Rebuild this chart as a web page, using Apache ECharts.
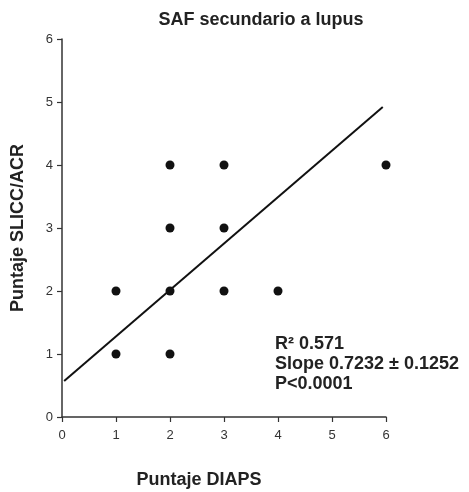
<!DOCTYPE html>
<html><head><meta charset="utf-8">
<script src="https://cdn.jsdelivr.net/npm/echarts@6/dist/echarts.min.js"></script>
<style>html,body{margin:0;padding:0;background:#fff}#c{width:469px;height:492px}</style>
</head><body><div id="c"></div>
<script>
var xTicks = [0,1,2,3,4,5,6];
var yTicks = [0,1,2,3,4,5,6];
var pointsX = [1,2,1,2,3,4,2,3,2,3,6];
var pointsY = [1,1,2,2,2,2,3,3,4,4,4];
var fitX = [0.04, 5.94];
var fitY = [0.57, 4.92];
var statsLines = ['R² 0.571', 'Slope 0.7232 ± 0.1252', 'P<0.0001'];

var font = '"Liberation Sans", Arial, sans-serif';
var chart = echarts.init(document.getElementById('c'), null, {renderer:'canvas'});
chart.setOption({
  animation:false,
  backgroundColor:'#fff',
  title:{text:'SAF secundario a lupus', left:256, top:6, textAlign:'center',
    textStyle:{fontFamily:font, fontSize:18, fontWeight:'bold', color:'#222'}},
  grid:{left:62, top:39, right:83, bottom:75, containLabel:false, outerBoundsMode:'none'},
  xAxis:{type:'value', min:0, max:6, interval:1,
    name:'Puntaje DIAPS', nameLocation:'middle', nameGap:54,
    nameTextStyle:{fontFamily:font, fontSize:18, fontWeight:'bold', color:'#222', padding:[0,0,0,-50]},
    axisLine:{show:true, onZero:false, lineStyle:{color:'#333', width:1.5}},
    axisTick:{show:true, length:5, lineStyle:{color:'#333', width:1.2}},
    axisLabel:{fontFamily:font, fontSize:13, color:'#333', margin:12,
      formatter:function(v){return xTicks.indexOf(v)>=0?String(v):'';}},
    splitLine:{show:false}},
  yAxis:{type:'value', min:0, max:6, interval:1,
    name:'Puntaje SLICC/ACR', nameLocation:'middle', nameGap:35, nameRotate:90,
    nameTextStyle:{fontFamily:font, fontSize:18, fontWeight:'bold', color:'#222'},
    axisLine:{show:true, onZero:false, lineStyle:{color:'#333', width:1.5}},
    axisTick:{show:true, length:5, lineStyle:{color:'#333', width:1.2}},
    axisLabel:{fontFamily:font, fontSize:13, color:'#333', margin:9,
      formatter:function(v){return yTicks.indexOf(v)>=0?String(v):'';}},
    splitLine:{show:false}},
  series:[
    {type:'line', data:fitX.map(function(x,i){return [x,fitY[i]];}), symbol:'none',
      lineStyle:{color:'#111', width:2}, z:2},
    {type:'scatter', data:pointsX.map(function(x,i){return [x,pointsY[i]];}),
      symbol:'circle', symbolSize:9, itemStyle:{color:'#111', opacity:1}, z:3}
  ],
  graphic:[{type:'text', left:275, top:334,
    style:{text:statsLines.join('\n'), fontFamily:font, fontSize:18, fontWeight:'bold',
      fill:'#222', lineHeight:20}}]
});
</script></body></html>
